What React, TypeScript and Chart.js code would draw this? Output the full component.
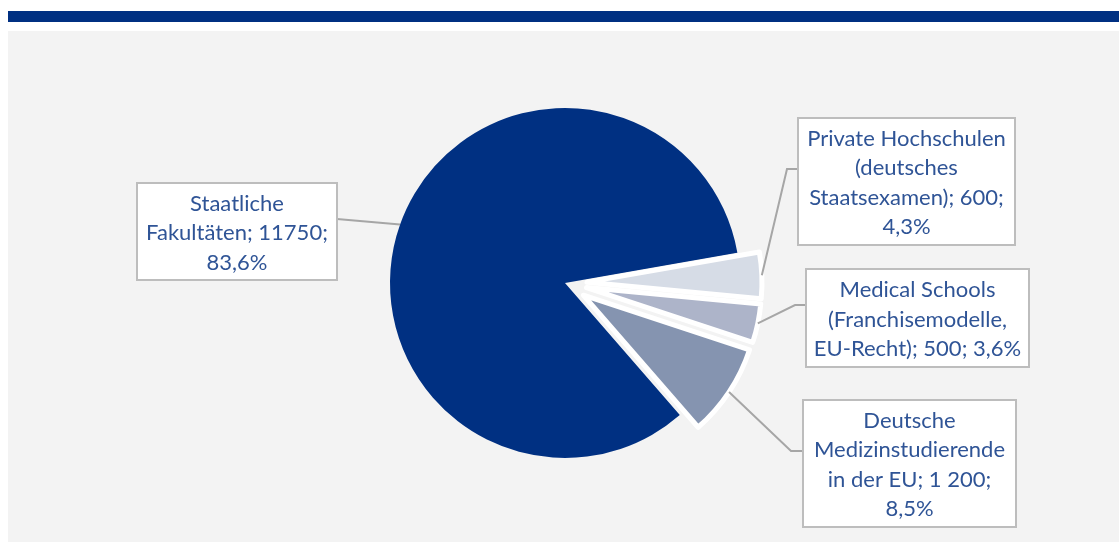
import React, { useEffect, useRef } from 'react';
import { Chart, registerables } from 'chart.js';

Chart.register(...registerables);

// ---- data ----
const categories = [
  'Staatliche Fakultäten',
  'Private Hochschulen (deutsches Staatsexamen)',
  'Medical Schools (Franchisemodelle, EU-Recht)',
  'Deutsche Medizinstudierende in der EU',
];
const values = [11750, 600, 500, 1200];
const valueLabels = ['11750', '600', '500', '1 200'];
const percentLabels = ['83,6%', '4,3%', '3,6%', '8,5%'];
const labelLines = [
  ['Staatliche', 'Fakultäten; 11750;', '83,6%'],
  ['Private Hochschulen', '(deutsches', 'Staatsexamen); 600;', '4,3%'],
  ['Medical Schools', '(Franchisemodelle,', 'EU-Recht); 500; 3,6%'],
  ['Deutsche', 'Medizinstudierende', 'in der EU; 1 200;', '8,5%'],
];

// ---- styling ----
const sliceColors = ['#003082', '#D6DCE6', '#ADB4C9', '#8594B0'];
const explode = [0, 22, 22, 22];
const FONT = '22px Lato, "Open Sans", sans-serif';
const TEXT_COLOR = '#2F5496';
const LINE_H = 29.5;

// label box geometry (canvas coordinates) and leader elbows
const boxes = [
  { x: 129, y: 152, w: 200, h: 97, side: 'right', elbowDx: 0 },
  { x: 790, y: 87, w: 217, h: 127, side: 'left', elbowDx: -11 },
  { x: 798, y: 238, w: 223, h: 98, side: 'left', elbowDx: -11 },
  { x: 795, y: 369, w: 213, h: 127, side: 'left', elbowDx: -12 },
];
const leaderY = [188, 138, 274, 420];

const explodePlugin = {
  id: 'explodeSlices',
  beforeDatasetDraw(chart: any, args: any) {
    const ctx = chart.ctx;
    const meta = chart.getDatasetMeta(args.index);
    meta.data.forEach((arc: any, i: number) => {
      const mid = (arc.startAngle + arc.endAngle) / 2;
      const d = explode[i] || 0;
      ctx.save();
      ctx.translate(Math.cos(mid) * d, Math.sin(mid) * d);
      arc.draw(ctx);
      ctx.restore();
    });
    return false;
  },
};

const labelPlugin = {
  id: 'calloutLabels',
  afterDatasetsDraw(chart: any) {
    const ctx = chart.ctx;
    const meta = chart.getDatasetMeta(0);
    ctx.save();
    // leader lines
    meta.data.forEach((arc: any, i: number) => {
      const b = boxes[i];
      const mid = (arc.startAngle + arc.endAngle) / 2;
      const r = arc.outerRadius + (explode[i] || 0);
      const px = arc.x + Math.cos(mid) * r;
      const py = arc.y + Math.sin(mid) * r;
      const bx = b.side === 'right' ? b.x + b.w : b.x;
      const by = leaderY[i];
      ctx.beginPath();
      ctx.strokeStyle = '#A6A6A6';
      ctx.lineWidth = 2;
      ctx.moveTo(px, py);
      ctx.lineTo(bx + b.elbowDx, by);
      ctx.lineTo(bx, by);
      ctx.stroke();
    });
    // boxes and text
    ctx.font = FONT;
    ctx.textAlign = 'center';
    ctx.textBaseline = 'middle';
    boxes.forEach((b, i) => {
      ctx.fillStyle = '#FFFFFF';
      ctx.fillRect(b.x, b.y, b.w, b.h);
      ctx.strokeStyle = '#BDBDBD';
      ctx.lineWidth = 2;
      ctx.strokeRect(b.x, b.y, b.w, b.h);
      const lines = labelLines[i];
      const cx = b.x + b.w / 2;
      const cy = b.y + b.h / 2 + 1.5;
      ctx.fillStyle = TEXT_COLOR;
      lines.forEach((t, j) => {
        ctx.fillText(t, cx, cy + (j - (lines.length - 1) / 2) * LINE_H);
      });
    });
    ctx.restore();
  },
};

export default function App() {
  const ref = useRef<HTMLCanvasElement>(null);
  useEffect(() => {
    if (!ref.current) return;
    const chart = new Chart(ref.current, {
      type: 'pie',
      data: {
        labels: categories.map((c, i) => `${c}; ${valueLabels[i]}; ${percentLabels[i]}`),
        datasets: [
          {
            data: values,
            backgroundColor: sliceColors,
            borderColor: '#FFFFFF',
            borderWidth: [0, 5, 5, 5],
            borderJoinStyle: 'round',
            radius: 175,
          } as any,
        ],
      },
      options: {
        animation: false,
        responsive: false,
        maintainAspectRatio: false,
        rotation: 139,
        layout: { padding: { left: 3, right: 0, top: 0, bottom: 7 } },
        plugins: {
          legend: { display: false },
          tooltip: { enabled: false },
        },
      },
      plugins: [explodePlugin, labelPlugin],
    });
    return () => chart.destroy();
  }, []);

  return (
    <div style={{ position: 'absolute', left: 0, top: 0, width: 1119, height: 542, background: '#FFFFFF', overflow: 'hidden' }}>
      <div style={{ position: 'absolute', left: 8, top: 11, width: 1111, height: 11, background: '#003082' }} />
      <div style={{ position: 'absolute', left: 8, top: 31, width: 1111, height: 511, background: '#F3F3F3' }}>
        <canvas ref={ref} width={1111} height={511} style={{ display: 'block', width: 1111, height: 511 }} />
      </div>
    </div>
  );
}
